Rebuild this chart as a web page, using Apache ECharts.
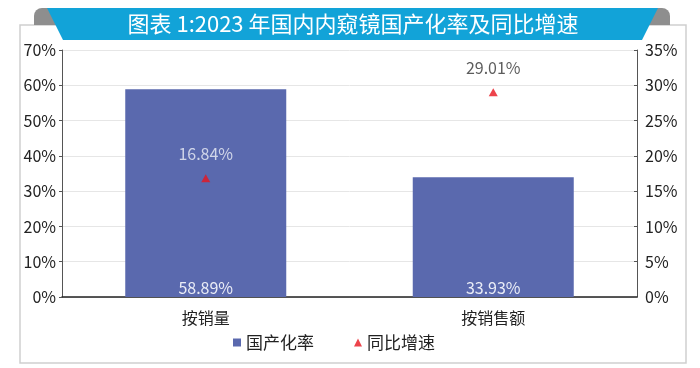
<!DOCTYPE html>
<html><head><meta charset="utf-8">
<script src="https://cdn.jsdelivr.net/npm/echarts@6/dist/echarts.min.js"></script>
<style>html,body{margin:0;padding:0;background:#fff}#c{width:700px;height:368px}</style>
</head><body><div id="c"></div>
<script>
var title = '图表 1:2023 年国内内窥镜国产化率及同比增速';
var categories = ['按销量', '按销售额'];
var localizationRate = [58.89, 33.93];
var yoyGrowth = [16.84, 29.01];
var leftTicks = [0, 10, 20, 30, 40, 50, 60, 70];
var rightTicks = [0, 5, 10, 15, 20, 25, 30, 35];
var seriesNames = ['国产化率', '同比增速'];

var font = '"Noto Sans CJK SC", "Noto Sans", sans-serif';
var chart = echarts.init(document.getElementById('c'));
chart.setOption({
  animation: false,
  graphic: [
    {type:'rect', shape:{x:20,y:25,width:666,height:338}, style:{fill:'#fff', stroke:'#cfcfcf', lineWidth:1.5}, z:-10},
    {type:'rect', shape:{x:34,y:8,width:30,height:17,r:[8,0,0,0]}, style:{fill:'#8e8e8e'}, z:1},
    {type:'rect', shape:{x:640,y:8,width:30,height:17,r:[0,8,0,0]}, style:{fill:'#8e8e8e'}, z:1},
    {type:'polygon', shape:{points:[[47,8],[658,8],[642,40],[63,40]]}, style:{fill:'#12a3d8'}, z:2},
    {type:'text', x:353, y:24, style:{text:title, fill:'#fff', font:'normal 22px ' + font, textAlign:'center', textVerticalAlign:'middle'}, z:3}
  ],
  grid: {left:62, right:63, top:50, bottom:71},
  legend: {
    bottom: 12, left: 228, itemWidth: 8, itemHeight: 8, itemGap: 40,
    textStyle: {fontSize: 17, color: '#222', fontFamily: font},
    data: [{name: seriesNames[0], icon: 'rect'}, {name: seriesNames[1], icon: 'triangle'}]
  },
  xAxis: {
    type: 'category', data: categories,
    axisLine: {lineStyle: {color: '#222', width: 1.5}},
    axisTick: {show: false},
    axisLabel: {fontSize: 16, color: '#222', margin: 13, fontFamily: font}
  },
  yAxis: [
    {type:'value', min:0, max:70, interval:10,
     axisLine:{show:true, lineStyle:{color:'#555'}},
     axisTick:{show:true, length:3, lineStyle:{color:'#555'}},
     splitLine:{lineStyle:{color:'#e6e6e6'}},
     axisLabel:{formatter:'{value}%', fontSize:16, color:'#222', margin:6, fontFamily:font}},
    {type:'value', min:0, max:35, interval:5,
     axisLine:{show:true, lineStyle:{color:'#555'}},
     axisTick:{show:true, inside:true, length:3, lineStyle:{color:'#555'}},
     splitLine:{show:false},
     axisLabel:{formatter:'{value}%', fontSize:16, color:'#222', margin:8, fontFamily:font}}
  ],
  series: [
    {name: seriesNames[0], type:'bar', yAxisIndex:0, barWidth:'56%',
     itemStyle:{color:'#5a69ae'},
     data: localizationRate,
     label:{show:true, position:'insideBottom', distance:1, color:'#e9ecf6', fontSize:16, fontFamily:font,
            formatter: function(p){ return p.value.toFixed(2) + '%'; }}},
    {name: seriesNames[1], type:'scatter', yAxisIndex:1, symbol:'triangle', symbolSize:[9,8],
     itemStyle:{color:'#e8141e'}, z:5,
     data: yoyGrowth.map(function(v, i){
       return {value: v, label: {color: i === 0 ? '#eef0f8' : '#333'}};
     }),
     label:{show:true, position:'top', distance:12, fontSize:16, fontFamily:font,
            formatter: function(p){ return p.value.toFixed(2) + '%'; }}}
  ]
});
</script></body></html>
